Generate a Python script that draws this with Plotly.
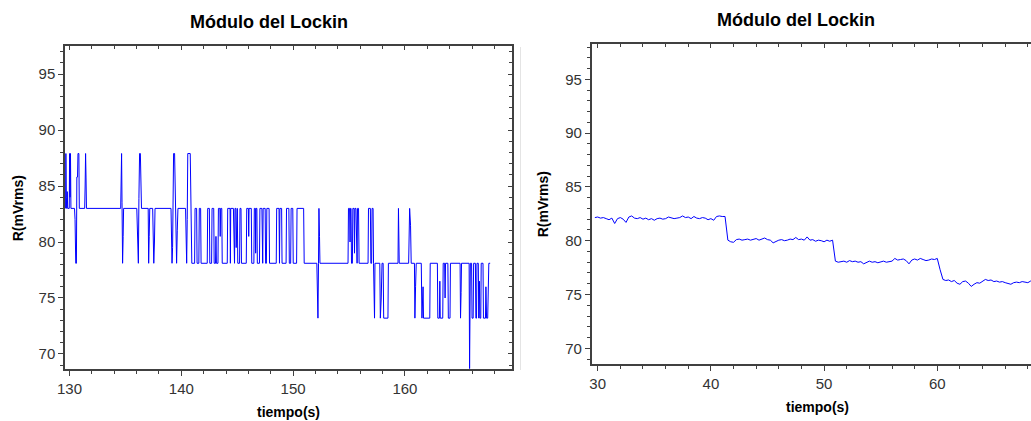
import plotly.graph_objects as go

W, H = 1031, 421

# ---------------- data: left panel (vertices of the recorded trace) ----------------
left_t = [
    129.65, 129.68, 129.72, 129.75, 129.80, 129.84, 129.98, 130.01, 130.05, 130.09,
    130.13, 130.45, 130.50, 130.56, 130.62, 130.66, 130.72, 130.76, 130.84, 130.88,
    131.36, 131.40, 131.44, 131.48, 131.52, 134.58, 134.62, 134.66, 134.70, 134.75,
    134.80, 134.84,
    136.02, 136.06, 136.12, 136.16, 136.21, 136.27, 136.34, 136.38, 136.44, 137.04,
    137.08, 137.13, 137.18, 137.44, 137.49, 137.54, 137.60, 137.65,
    139.08, 139.12, 139.17, 139.22, 139.27, 139.31, 139.40, 139.45, 139.52, 139.58,
    139.64, 139.70, 140.38, 140.43, 140.48, 140.53, 140.58, 140.80, 140.84, 140.88,
    140.94,
    141.19, 141.23, 141.37, 141.41, 141.57, 141.61, 141.73, 141.77, 142.32, 142.36,
    142.51, 142.55, 142.71, 142.75, 142.90, 142.94, 143.06, 143.10, 143.14, 143.28,
    143.32, 143.45, 143.48, 143.52, 143.62, 143.66,
    144.11, 144.15, 144.36, 144.39, 144.42, 144.66, 144.70, 144.76, 144.80, 144.88,
    144.91, 144.95, 145.01, 145.05, 145.21, 145.25, 145.34, 145.38,
    145.81, 145.85, 146.00, 146.03, 146.06, 146.26, 146.30, 146.49, 146.53, 146.62,
    146.65, 146.68, 146.76, 146.80, 146.99, 147.03, 147.21, 147.25, 147.28, 147.32,
    147.50, 147.54, 147.61, 147.65, 147.85, 147.89,
    148.49, 148.53, 148.74, 148.78, 148.82, 148.97, 149.01, 149.37, 149.41, 149.62,
    149.66, 149.78, 149.82, 149.97, 150.01, 150.31, 150.35, 150.94, 150.99,
    152.12, 152.17, 152.22, 152.27, 152.31, 152.36, 152.40, 154.91, 154.95, 155.05,
    155.09, 155.13, 155.18, 155.22, 155.30, 155.34, 155.45, 155.49, 155.53, 155.62,
    155.66, 155.72, 155.76, 155.85, 155.90, 156.70, 156.74, 156.91, 156.95,
    157.02, 157.06, 157.15, 157.19, 157.23, 157.28, 157.32, 157.75, 157.80, 157.88,
    157.95, 158.05, 158.10, 158.22, 158.48, 158.52, 159.38, 159.42, 159.45, 159.49,
    160.33, 160.37, 160.42, 160.50, 160.56,
    160.85, 160.89, 160.95, 161.01, 161.46, 161.52, 161.62, 161.66, 162.22, 162.26,
    162.90, 162.94, 163.08, 163.12, 163.16, 163.38, 163.42, 163.55, 163.59, 163.63,
    163.84, 163.88, 164.03, 164.07,
    164.93, 164.97, 165.02, 165.06, 165.74, 165.78, 165.85, 165.96, 166.00, 166.10,
    166.14, 166.30, 166.34, 166.40, 166.44, 166.56, 166.60, 166.66, 166.70, 166.78,
    166.82, 166.98, 167.02, 167.20, 167.24, 167.30, 167.40, 167.45, 167.50, 167.62,
]
left_r = [
    83.0, 87.9, 84.0, 83.0, 84.5, 83.0, 83.0, 87.9, 84.0, 87.9,
    83.0, 83.0, 82.0, 78.1, 78.1, 85.8, 85.8, 87.9, 87.9, 83.0,
    83.0, 85.0, 87.9, 85.8, 83.0, 83.0, 86.3, 87.9, 83.5, 78.1,
    80.5, 83.0,
    83.0, 80.6, 80.6, 78.1, 83.9, 87.9, 87.9, 83.9, 83.0, 83.0,
    78.1, 80.5, 83.0, 83.0, 80.5, 78.1, 80.0, 83.0,
    83.0, 81.0, 78.1, 79.5, 85.8, 87.9, 87.9, 85.0, 81.5, 78.1,
    81.0, 83.0, 83.0, 80.5, 78.1, 82.0, 87.9, 87.9, 85.0, 81.0,
    78.1,
    78.1, 83.0, 83.0, 78.1, 78.1, 83.0, 83.0, 78.1, 78.1, 83.0,
    83.0, 78.1, 78.1, 83.0, 83.0, 78.1, 78.1, 80.5, 78.1, 78.1,
    83.0, 83.0, 80.5, 83.0, 83.0, 78.1,
    78.1, 83.0, 83.0, 78.1, 83.0, 83.0, 78.1, 78.1, 83.0, 83.0,
    79.5, 83.0, 83.0, 78.1, 78.1, 83.0, 83.0, 78.1,
    78.1, 83.0, 83.0, 80.5, 83.0, 83.0, 78.1, 78.1, 83.0, 83.0,
    79.0, 83.0, 83.0, 78.1, 78.1, 83.0, 83.0, 78.1, 78.1, 83.0,
    83.0, 78.1, 78.1, 83.0, 83.0, 78.1,
    78.1, 83.0, 83.0, 78.1, 83.0, 83.0, 78.1, 78.1, 83.0, 83.0,
    78.1, 78.1, 83.0, 83.0, 78.1, 78.1, 83.0, 83.0, 78.1,
    78.1, 75.5, 73.2, 78.1, 83.0, 80.5, 78.1, 78.1, 83.0, 83.0,
    80.0, 83.0, 83.0, 78.1, 78.1, 83.0, 83.0, 79.0, 83.0, 83.0,
    78.1, 78.1, 83.0, 83.0, 78.1, 78.1, 83.0, 83.0, 78.1,
    78.1, 83.0, 83.0, 78.1, 73.2, 73.2, 78.1, 78.1, 73.2, 75.0,
    78.1, 78.1, 73.2, 73.2, 73.2, 78.1, 78.1, 83.0, 81.0, 78.1,
    78.1, 81.5, 83.0, 81.5, 78.1,
    78.1, 73.2, 76.0, 78.1, 78.1, 73.2, 76.0, 73.2, 73.2, 78.1,
    78.1, 73.2, 73.2, 76.5, 73.2, 73.2, 78.1, 78.1, 75.0, 78.1,
    78.1, 73.2, 73.2, 78.1,
    78.1, 73.2, 75.5, 78.1, 78.1, 68.7, 78.1, 78.1, 73.2, 73.2,
    78.1, 78.1, 73.2, 73.2, 78.1, 78.1, 73.2, 76.5, 73.2, 73.2,
    78.1, 78.1, 73.2, 73.2, 76.0, 73.2, 73.2, 76.5, 78.1, 78.1,
]

# ---------------- data: right panel (samples every 0.25 s from 29.75 s) ----------------
right_t_start = 29.75
right_t_step = 0.25
right_r = [
    82.15, 82.20, 82.10, 82.15, 82.05, 81.95, 82.10, 81.60, 82.05, 82.15,
    82.00, 81.70, 82.20, 82.30, 82.10, 82.05, 82.15, 82.00, 82.10, 81.95,
    82.05, 81.90, 82.05, 82.10, 82.00, 82.05, 82.20, 82.15, 82.05, 82.10,
    82.15, 82.30, 82.15, 82.20, 82.05, 82.25, 82.10, 82.05, 82.15, 82.10,
    81.95, 82.05, 81.90, 82.25, 82.30, 82.25, 82.25,
    80.05, 79.90, 79.85, 80.10, 80.15, 80.05, 80.10, 80.15, 80.05, 80.10,
    80.20, 80.05, 80.15, 80.25, 80.10, 80.05, 79.80, 79.95, 80.05, 80.10,
    80.00, 80.05, 80.15, 80.10, 80.30, 80.10, 80.15, 80.05, 80.35, 80.05,
    80.10, 79.95, 80.05, 80.00, 79.90, 80.05, 79.95, 80.05,
    78.10, 78.00, 78.05, 78.10, 78.00, 78.15, 78.05, 78.10, 78.00, 78.05,
    77.85, 78.00, 78.10, 78.00, 78.05, 77.95, 78.00, 78.10, 78.00, 78.05,
    78.10, 78.35, 78.20, 78.25, 78.30, 78.15, 77.85, 78.20, 78.30, 78.20,
    78.35, 78.25, 78.15, 78.20, 78.30, 78.25, 78.35,
    77.30, 76.40, 76.30, 76.35, 76.20, 76.30, 76.05, 75.95, 76.20, 76.25,
    76.05, 75.75, 75.95, 76.10, 76.05, 76.25, 76.40, 76.30, 76.35, 76.20,
    76.25, 76.15, 76.20, 76.10, 76.05, 75.95, 76.10, 76.15, 76.10, 76.20,
    76.15, 76.10, 76.25, 76.10,
]
right_t = [right_t_start + i * right_t_step for i in range(len(right_r))]

assert len(left_t) == len(left_r), (len(left_t), len(left_r))

title_text = "Módulo del Lockin"
x_title = "tiempo(s)"
y_title = "R(mVrms)"

left_xrange = [129.6, 169.6]
left_yrange = [68.66, 97.5]
right_xrange = [29.47, 68.28]
right_yrange = [68.54, 98.31]

# ---------------- layout geometry (pixels) ----------------
L_x0, L_x1, L_y0, L_y1 = 65, 512.3, 46, 369
R_x0, R_x1, R_y0, R_y1 = 591.7, 1031, 43.7, 364

def px(x):
    return x / W

def py(y):
    return 1 - y / H

AX = "#404040"
FONT = "Liberation Sans, Arial, sans-serif"
tickfont = dict(family=FONT, size=15, color="#333333")

def base_axis(rng, dtick, minor_dtick, domain, anchor):
    return dict(
        domain=domain, anchor=anchor, range=rng, autorange=False, automargin=False,
        tickmode="linear", tick0=0, dtick=dtick,
        ticks="outside", ticklen=5, tickwidth=1, tickcolor=AX,
        minor=dict(ticks="outside", ticklen=3, tickwidth=1, tickcolor=AX,
                   tickmode="linear", tick0=0, dtick=minor_dtick, showgrid=False),
        showline=True, linecolor=AX, linewidth=1.5,
        showgrid=False, zeroline=False, tickfont=tickfont,
        fixedrange=True,
    )

def inside_axis(rng, dtick, minor_dtick, overlay, side, anchor):
    return dict(
        overlaying=overlay, side=side, anchor=anchor, range=rng, autorange=False,
        automargin=False,
        tickmode="linear", tick0=0, dtick=dtick,
        ticks="inside", ticklen=4, tickwidth=1, tickcolor=AX,
        minor=dict(ticks="inside", ticklen=3, tickwidth=1, tickcolor=AX,
                   tickmode="linear", tick0=0, dtick=minor_dtick, showgrid=False),
        showticklabels=False, showline=False, showgrid=False, zeroline=False,
        fixedrange=True,
    )

fig = go.Figure()

fig.add_trace(go.Scatter(x=left_t, y=left_r, mode="lines",
                         line=dict(color="#0000ff", width=1),
                         xaxis="x", yaxis="y", showlegend=False))
fig.add_trace(go.Scatter(x=right_t, y=right_r, mode="lines",
                         line=dict(color="#0000ff", width=1),
                         xaxis="x2", yaxis="y2", showlegend=False))
# helper traces so the inside-tick overlay axes are drawn
for xa, ya in [("x3", "y"), ("x", "y3"), ("x4", "y2")]:
    fig.add_trace(go.Scatter(x=[None], y=[None], mode="lines", xaxis=xa, yaxis=ya,
                             showlegend=False, hoverinfo="skip"))

xa1 = base_axis(left_xrange, 10, 2, [px(L_x0), px(L_x1)], "y")
xa1["mirror"] = True
ya1 = base_axis(left_yrange, 5, 1, [py(L_y1), py(L_y0)], "x")
ya1["mirror"] = True
xa2 = base_axis(right_xrange, 10, 2, [px(R_x0), 1.0], "y2")
xa2["mirror"] = True
ya2 = base_axis(right_yrange, 5, 1, [py(R_y1), py(R_y0)], "x2")

fig.update_layout(
    width=W, height=H,
    margin=dict(l=0, r=0, t=0, b=0, pad=0, autoexpand=False),
    paper_bgcolor="white", plot_bgcolor="white",
    showlegend=False,
    xaxis=xa1, yaxis=ya1, xaxis2=xa2, yaxis2=ya2,
    xaxis3=inside_axis(left_xrange, 10, 2, "x", "top", "y"),
    yaxis3=inside_axis(left_yrange, 5, 1, "y", "right", "x"),
    xaxis4=inside_axis(right_xrange, 10, 2, "x2", "top", "y2"),
)

title_font = dict(family=FONT, size=18, color="#000000")
label_font = dict(family=FONT, size=14, color="#000000")
anns = [
    dict(text="<b>%s</b>" % title_text, x=px(268.5), y=py(21.7), font=title_font),
    dict(text="<b>%s</b>" % title_text, x=px(795.5), y=py(19.5), font=title_font),
    dict(text="<b>%s</b>" % x_title, x=px(288), y=py(412), font=label_font),
    dict(text="<b>%s</b>" % x_title, x=px(817.7), y=py(407), font=label_font),
    dict(text="<b>%s</b>" % y_title, x=px(18.3), y=py(208), font=label_font, textangle=-90),
    dict(text="<b>%s</b>" % y_title, x=px(543.3), y=py(204), font=label_font, textangle=-90),
]
for a in anns:
    a.update(xref="paper", yref="paper", xanchor="center", yanchor="middle", showarrow=False)
fig.update_layout(annotations=anns)

fig.add_shape(type="line", xref="paper", yref="paper",
              x0=px(520.5), x1=px(520.5), y0=py(47), y1=py(370),
              line=dict(color="#e4e4e4", width=1))

fig.write_html(
    "out.html",
    config={"displayModeBar": False},
    post_script="document.body.style.margin='0';document.body.style.padding='0';"
                "document.body.style.overflow='hidden';",
)
